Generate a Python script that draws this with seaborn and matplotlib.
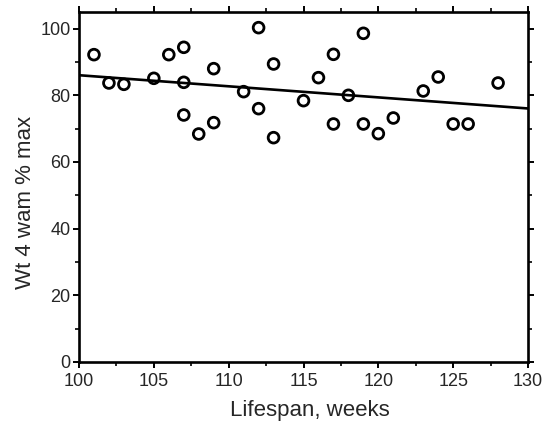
import matplotlib
matplotlib.use("Agg")
import matplotlib.pyplot as plt
from matplotlib.ticker import MultipleLocator
import numpy as np
import pandas as pd
import seaborn as sns

# Lifespan (weeks) and weight at 4 weeks after max (% of max)
lifespan = [101, 102, 103, 105, 106, 107, 107, 107, 108, 109,
            109, 111, 112, 112, 113, 113, 115, 116, 117, 117,
            118, 119, 119, 120, 121, 123, 124, 125, 126, 128]
wt_pct = [92.2, 83.7, 83.3, 85.1, 92.2, 94.4, 83.9, 74.1, 68.4, 88.0,
          71.8, 81.1, 100.3, 76.0, 89.4, 67.3, 78.4, 85.3, 92.3, 71.4,
          80.0, 98.6, 71.4, 68.5, 73.2, 81.3, 85.5, 71.4, 71.4, 83.7]

df = pd.DataFrame({"lifespan": lifespan, "wt": wt_pct})

sns.set_style("ticks")
plt.rcParams["font.family"] = ["Liberation Sans", "DejaVu Sans"]

fig = plt.figure(figsize=(5.47, 4.22), dpi=100)
ax = fig.add_axes([0.1444, 0.1422, 0.8209, 0.8294])
ax.set_xlim(100, 130)
ax.set_ylim(0, 105)

# open circles with a least-squares line spanning the full x range
sns.regplot(data=df, x="lifespan", y="wt", ax=ax, ci=None, truncate=False,
            marker="o",
            scatter_kws=dict(s=60, facecolors="none", edgecolors="black",
                             linewidths=2.0, alpha=1, zorder=3),
            line_kws=dict(color="black", lw=1.9, zorder=2))

ax.set_xlim(100, 130)
ax.set_ylim(0, 105)
ax.xaxis.set_major_locator(MultipleLocator(5))
ax.xaxis.set_minor_locator(MultipleLocator(2.5))
ax.yaxis.set_major_locator(MultipleLocator(20))
ax.yaxis.set_minor_locator(MultipleLocator(10))

for s in ax.spines.values():
    s.set_linewidth(1.9)
    s.set_color("black")

ax.tick_params(which="both", direction="out", top=True, right=True,
               labeltop=False, labelright=False, color="black")
ax.tick_params(which="major", length=4, width=1.4, labelsize=13)
ax.tick_params(axis="x", which="major", pad=4)
ax.tick_params(axis="y", which="major", pad=2)
ax.tick_params(which="minor", length=3, width=1.2)

ax.set_xlabel("Lifespan, weeks", fontsize=16, labelpad=7)
ax.set_ylabel("Wt 4 wam % max", fontsize=16, labelpad=3)
ax.xaxis.label.set_x(0.514)
ax.yaxis.label.set_y(0.457)

fig.savefig("out.png", dpi=100)
